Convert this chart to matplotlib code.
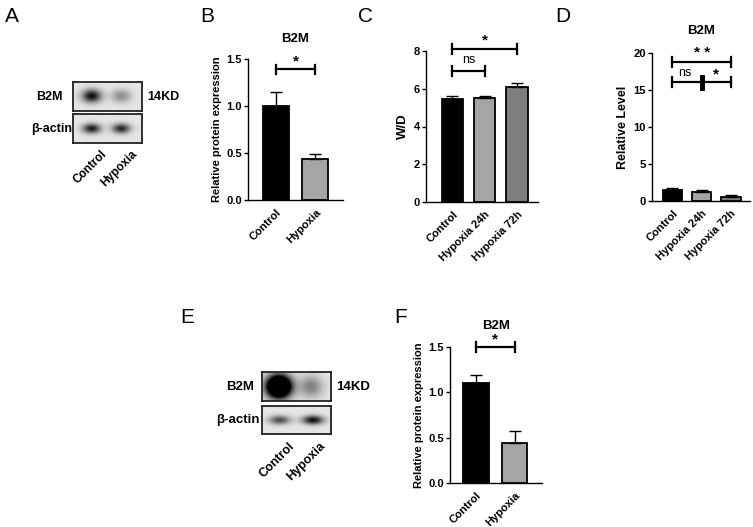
import numpy as np
import matplotlib
matplotlib.use('Agg')
from matplotlib import pyplot as plt

plt.rcParams['font.family'] = ['Liberation Sans', 'DejaVu Sans']
plt.rcParams['font.weight'] = 'bold'
plt.rcParams['axes.titleweight'] = 'bold'
plt.rcParams['axes.labelweight'] = 'bold'

W, H = 753, 527

# ---- data ----
lanes = ['Control', 'Hypoxia']
groups3 = ['Control', 'Hypoxia 24h', 'Hypoxia 72h']

# band darkness of the blots (0 = empty, >=1 = saturated)
a_b2m = [0.85, 0.35]
a_actin = [0.8, 0.75]
e_b2m = [2.2, 0.4]
e_actin = [0.6, 0.85]

b_mean = [1.0, 0.44]
b_err = [0.15, 0.05]

c_mean = [5.48, 5.5, 6.1]
c_err = [0.12, 0.1, 0.2]

d_mean = [1.55, 1.2, 0.6]
d_err = [0.2, 0.35, 0.15]

f_mean = [1.1, 0.44]
f_err = [0.09, 0.13]

colors2 = ['#000000', '#a5a5a7']
colors3 = ['#000000', '#a5a5a7', '#7e7e7e']

fig = plt.figure(figsize=(W / 100, H / 100), dpi=100)


def ax_px(l, t, r, b):
    return fig.add_axes([l / W, 1 - b / H, (r - l) / W, (b - t) / H])


def fx(x):
    return x / W


def fy(y):
    return 1 - y / H


def blot(l, t, r, b, vals, sx, sy, cxs):
    ax = ax_px(l, t, r, b)
    xx, yy = np.meshgrid(np.linspace(0, 1, 140), np.linspace(0, 1, 60))
    img = np.full(xx.shape, 0.1)
    for v, cx in zip(vals, cxs):
        img += v * np.exp(-((xx - cx) / sx) ** 2 - ((yy - 0.5) / sy) ** 2)
    ax.imshow(np.clip(img, 0, 1), cmap='gray_r', vmin=0, vmax=1,
              extent=[0, 1, 0, 1], aspect='auto', interpolation='bilinear')
    ax.set_xticks([]), ax.set_yticks([])
    for s in ax.spines.values():
        s.set_linewidth(1.3)
        s.set_color('#222222')
    return ax


def bar_panel(l, t, r, b, means, errs, cols, labels, ylim, yticks, yfmt,
              ylabel, xlim):
    ax = ax_px(l, t, r, b)
    x = np.arange(len(means))
    ax.bar(x, means, width=0.66, color=cols, edgecolor='black', linewidth=1.3)
    ax.errorbar(x, means, yerr=[np.zeros(len(errs)), errs], fmt='none',
                ecolor='black', elinewidth=1, capsize=4, capthick=1)
    ax.set_xlim(*xlim)
    ax.set_ylim(*ylim)
    ax.set_yticks(yticks)
    ax.set_yticklabels([yfmt % v for v in yticks], fontsize=8)
    ax.set_xticks(x)
    ax.set_xticklabels(labels, rotation=45, ha='right', rotation_mode='anchor',
                       fontsize=8)
    ax.tick_params(axis='x', length=0, pad=5)
    ax.tick_params(axis='y', length=3, width=1, pad=1.5)
    for s in ['top', 'right']:
        ax.spines[s].set_visible(False)
    for s in ['left', 'bottom']:
        ax.spines[s].set_linewidth(1)
    ax.set_ylabel(ylabel, fontsize=8, labelpad=3)
    return ax


def bracket(ax, x1, x2, y, h, text, ty, fs=11, lw=1.6):
    ax.plot([x1, x2], [y, y], color='black', lw=lw, clip_on=False)
    ax.plot([x1, x1], [y - h, y + h], color='black', lw=lw, clip_on=False)
    ax.plot([x2, x2], [y - h, y + h], color='black', lw=lw, clip_on=False)
    if text:
        ax.text((x1 + x2) / 2, ty, text, ha='center', va='bottom',
                fontsize=fs, clip_on=False)


# ---- panel letters ----
for letter, x, y in [('A', 5, 22), ('B', 200, 22), ('C', 358, 22),
                     ('D', 555, 22), ('E', 180, 323), ('F', 394, 323)]:
    fig.text(fx(x), fy(y), letter, fontsize=15, fontweight='normal')

# ---- panel A: blot ----
blot(73, 82, 142, 111, a_b2m, 0.14, 0.22, [0.27, 0.7])
blot(73, 114, 142, 143, a_actin, 0.13, 0.17, [0.27, 0.7])
fig.text(fx(63), fy(97), 'B2M', ha='right', va='center', fontsize=9)
fig.text(fx(72), fy(129), 'β-actin', ha='right', va='center', fontsize=9)
fig.text(fx(147), fy(97), '14KD', ha='left', va='center', fontsize=9)
for name, x in zip(lanes, [101, 131]):
    fig.text(fx(x), fy(148), name, rotation=45, ha='right', va='top',
             rotation_mode='anchor', fontsize=8.5)

# ---- panel E: blot ----
blot(262, 372, 331, 401, e_b2m, 0.17, 0.38, [0.24, 0.7])
blot(262, 406, 331, 434, e_actin, 0.15, 0.16, [0.25, 0.73])
fig.text(fx(254), fy(387), 'B2M', ha='right', va='center', fontsize=9.5)
fig.text(fx(260), fy(420), 'β-actin', ha='right', va='center', fontsize=9.5)
fig.text(fx(336), fy(387), '14KD', ha='left', va='center', fontsize=9.5)
for name, x in zip(lanes, [289, 319]):
    fig.text(fx(x), fy(440), name, rotation=45, ha='right', va='top',
             rotation_mode='anchor', fontsize=9)

# ---- panel B ----
axb = bar_panel(248, 59, 343, 200, b_mean, b_err, colors2, lanes,
                (0, 1.5), [0, 0.5, 1.0, 1.5], '%.1f',
                'Relative protein expression', (-0.71, 1.70))
axb.set_title('B2M', fontsize=9.5, pad=12)
bracket(axb, 0, 1, 1.39, 0.045, '*', 1.4)

# ---- panel C ----
axc = bar_panel(426, 51, 538, 202, c_mean, c_err, colors3, groups3,
                (0, 8), [0, 2, 4, 6, 8], '%d', 'W/D', (-0.82, 2.65))
axc.yaxis.label.set_fontsize(9.5)
bracket(axc, 0, 2, 8.1, 0.28, '*', 8.2)
bracket(axc, 0, 1, 6.95, 0.28, 'ns', 7.2, fs=9)
axc.texts[-1].set_fontweight('normal')

# ---- panel D ----
axd = bar_panel(652, 53, 750, 201, d_mean, d_err, colors3, groups3,
                (0, 20), [0, 5, 10, 15, 20], '%d', 'Relative Level',
                (-0.70, 2.65))
axd.yaxis.label.set_fontsize(9)
axd.set_title('B2M', fontsize=9.5, pad=14)
bracket(axd, 0, 2, 18.8, 0.7, '* *', 19.0)
bracket(axd, 0, 2, 16.05, 0.7, '', 0)
axd.plot([1, 1], [15.3, 16.8], color='black', lw=3.5, clip_on=False)
axd.text(0.42, 16.5, 'ns', ha='center', va='bottom', fontsize=9,
         fontweight='normal')
axd.text(1.48, 16.2, '*', ha='center', va='bottom', fontsize=11)

# ---- panel F ----
axf = bar_panel(450, 347, 542, 483, f_mean, f_err, colors2, lanes,
                (0, 1.5), [0, 0.5, 1.0, 1.5], '%.1f',
                'Relative protein expression', (-0.675, 1.71))
axf.set_title('B2M', fontsize=9.5, pad=13)
bracket(axf, 0, 1, 1.5, 0.05, '*', 1.51)

fig.savefig('out.png', dpi=100)
